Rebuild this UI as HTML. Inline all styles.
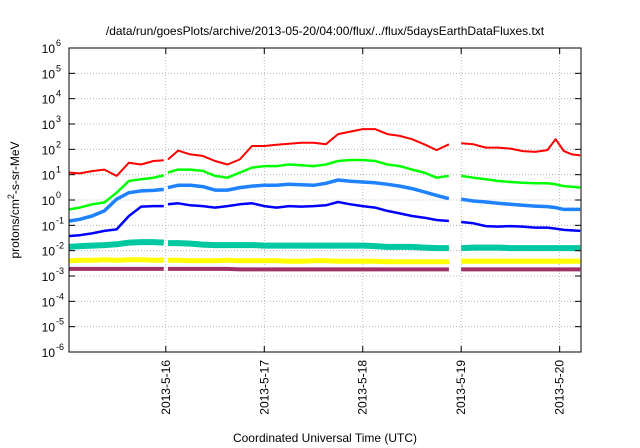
<!DOCTYPE html>
<html><head><meta charset="utf-8"><style>
body{margin:0;background:#fff;}
svg{display:block;font-family:"Liberation Sans",sans-serif;}
</style></head><body>
<svg id="chart" width="640" height="448" viewBox="0 0 640 448">
<text x="325" y="35" font-size="12" text-anchor="middle">/data/run/goesPlots/archive/2013-05-20/04:00/flux/../flux/5daysEarthDataFluxes.txt</text>
<text transform="translate(19,200) rotate(-90)" font-size="12" text-anchor="middle">protons/cm<tspan dy="-5" font-size="9">2</tspan><tspan dy="5">-s-sr-MeV</tspan></text>
<text x="325" y="442" font-size="12" text-anchor="middle">Coordinated Universal Time (UTC)</text>
<g id="grid"></g>
<g id="series"></g>
<rect x="69" y="48" width="512" height="304" fill="none" stroke="#000" stroke-width="1"/>
<g id="axes"></g>
</svg>
<script>
const hours=[0.5,3,6,9,12,15,18,21,23.5,24,24.5,27,30,33,36,39,42,45,48,51,54,57,60,63,66,69,72,75,78,81,84,87,90,93,94.5,96,99,102,105,108,111,114,117,119,121,123,125];
const redLog=[1.08,1.05,1.14,1.2,0.95,1.47,1.4,1.54,1.57,null,1.6,1.95,1.8,1.74,1.54,1.4,1.6,2.13,2.13,2.18,2.22,2.26,2.26,2.2,2.6,2.7,2.8,2.8,2.6,2.53,2.4,2.2,1.97,2.2,null,2.24,2.2,2.07,2.07,2.03,1.93,1.9,1.97,2.4,1.93,1.8,1.76];
const greenLog=[-0.37,-0.3,-0.17,-0.1,0.29,0.75,0.82,0.88,0.97,null,1.08,1.2,1.2,1.15,0.95,0.88,1.08,1.28,1.34,1.34,1.4,1.37,1.34,1.4,1.54,1.58,1.58,1.54,1.4,1.34,1.2,1.08,0.88,0.95,null,0.95,0.88,0.82,0.75,0.71,0.68,0.66,0.66,0.62,0.55,0.52,0.49];
const lightBlueLog=[-0.83,-0.76,-0.63,-0.43,0.03,0.29,0.36,0.38,0.42,null,0.49,0.58,0.58,0.53,0.39,0.39,0.49,0.55,0.58,0.58,0.62,0.6,0.58,0.66,0.79,0.74,0.71,0.68,0.62,0.55,0.45,0.32,0.18,0.05,null,0.03,-0.04,-0.08,-0.13,-0.17,-0.21,-0.24,-0.26,-0.3,-0.37,-0.37,-0.37];
const blueLog=[-1.42,-1.39,-1.32,-1.22,-1.16,-0.63,-0.26,-0.24,-0.24,null,-0.17,-0.13,-0.21,-0.24,-0.3,-0.24,-0.17,-0.13,-0.24,-0.3,-0.24,-0.26,-0.24,-0.21,-0.08,-0.17,-0.24,-0.3,-0.43,-0.53,-0.63,-0.7,-0.79,-0.83,null,-0.87,-0.92,-1.03,-1.05,-1.03,-1.05,-1.09,-1.09,-1.13,-1.18,-1.2,-1.22];
const tealLog=[-1.85,-1.82,-1.8,-1.78,-1.75,-1.68,-1.66,-1.66,-1.68,null,-1.7,-1.7,-1.72,-1.76,-1.78,-1.78,-1.78,-1.78,-1.8,-1.8,-1.8,-1.8,-1.8,-1.8,-1.8,-1.8,-1.8,-1.82,-1.85,-1.85,-1.85,-1.88,-1.9,-1.9,null,-1.9,-1.88,-1.88,-1.88,-1.9,-1.9,-1.9,-1.9,-1.9,-1.9,-1.9,-1.9];
const yellowLog=[-2.4,-2.38,-2.38,-2.36,-2.38,-2.36,-2.36,-2.38,-2.38,null,-2.38,-2.38,-2.4,-2.4,-2.4,-2.38,-2.4,-2.4,-2.4,-2.4,-2.42,-2.42,-2.4,-2.4,-2.42,-2.42,-2.42,-2.42,-2.44,-2.44,-2.44,-2.44,-2.44,-2.44,null,-2.42,-2.42,-2.42,-2.42,-2.42,-2.42,-2.42,-2.42,-2.42,-2.42,-2.42,-2.42];
const purpleLog=[-2.72,-2.72,-2.72,-2.72,-2.72,-2.72,-2.72,-2.72,-2.72,null,-2.72,-2.72,-2.72,-2.72,-2.72,-2.72,-2.74,-2.74,-2.74,-2.74,-2.74,-2.74,-2.74,-2.74,-2.74,-2.74,-2.74,-2.74,-2.74,-2.74,-2.74,-2.74,-2.74,-2.74,null,-2.74,-2.74,-2.74,-2.74,-2.74,-2.74,-2.74,-2.74,-2.74,-2.74,-2.74,-2.74];
const yTickExps=[6,5,4,3,2,1,0,-1,-2,-3,-4,-5,-6];
const dayLabels=["2013-5-16","2013-5-17","2013-5-18","2013-5-19","2013-5-20"];
const dayHours=[24,48,72,96,120];

const X0=69,X1=581,Y0=48,Y1=352,H0=0.4,H1=125.2;
const xs=h=>X0+(h-H0)/(H1-H0)*(X1-X0);
const ys=l=>Y0+(6-l)/12*(Y1-Y0);
const NS="http://www.w3.org/2000/svg";
const grid=document.getElementById('grid'),axes=document.getElementById('axes'),ser=document.getElementById('series');
function mk(tag,attrs,parent){const e=document.createElementNS(NS,tag);for(const k in attrs)e.setAttribute(k,attrs[k]);parent.appendChild(e);return e;}
yTickExps.forEach(e=>{
  const y=ys(e);
  if(e<6&&e>-6){const g=mk('line',{x1:X0,x2:X1,y1:y,y2:y,stroke:'#aaa','stroke-width':0.8,'stroke-dasharray':'1,2'},grid);
  
  }
  const t1=mk('line',{x1:X0,x2:X0+6,y1:y,y2:y,stroke:'#000'},axes);
  
  
  const t2=mk('line',{x1:X1-6,x2:X1,y1:y,y2:y,stroke:'#000'},axes);
  
  
  const tx=mk('text',{x:55,y:y+5,'font-size':12,'text-anchor':'end'},axes);
  
  
  tx.textContent='10';
  const sp=mk('tspan',{x:56,y:y-2,'font-size':9,'text-anchor':'start'},tx);
  sp.textContent=String(e);
});
dayHours.forEach((h,i)=>{
  const x=xs(h);
  const g=mk('line',{x1:x,x2:x,y1:Y0,y2:Y1,stroke:'#aaa','stroke-width':0.8,'stroke-dasharray':'1,2'},grid);
  
  
  const t=mk('line',{x1:x,x2:x,y1:Y1-6,y2:Y1,stroke:'#000'},axes);
  
  
  const t2=mk('line',{x1:x,x2:x,y1:Y0,y2:Y0+6,stroke:'#000'},axes);
  
  
  const tx=mk('text',{transform:`translate(${x+4},360) rotate(-90)`,'font-size':12,'text-anchor':'end'},axes);
  
  
  tx.textContent=dayLabels[i];
});
const seriesList=[
 ['purple-series',purpleLog,'#a0306a',4],
 ['yellow-series',yellowLog,'#ffff00',5],
 ['teal-series',tealLog,'#00c8a0',6],
 ['blue-series',blueLog,'#0000ff',2.5],
 ['light-blue-series',lightBlueLog,'#1e82ff',3.5],
 ['green-series',greenLog,'#00ff00',2.5],
 ['red-series',redLog,'#ff0000',2]];
seriesList.forEach(([name,vals,col,w])=>{
  let d='',pen=false;
  vals.forEach((v,i)=>{
    if(v===null){pen=false;return;}
    d+=(pen?'L':'M')+xs(hours[i]).toFixed(1)+','+ys(v).toFixed(1)+' ';pen=true;
  });
  const p=mk('path',{d:d,fill:'none',stroke:col,'stroke-width':w,'stroke-linejoin':'round'},ser);
  
  
});
</script>
</body></html>
